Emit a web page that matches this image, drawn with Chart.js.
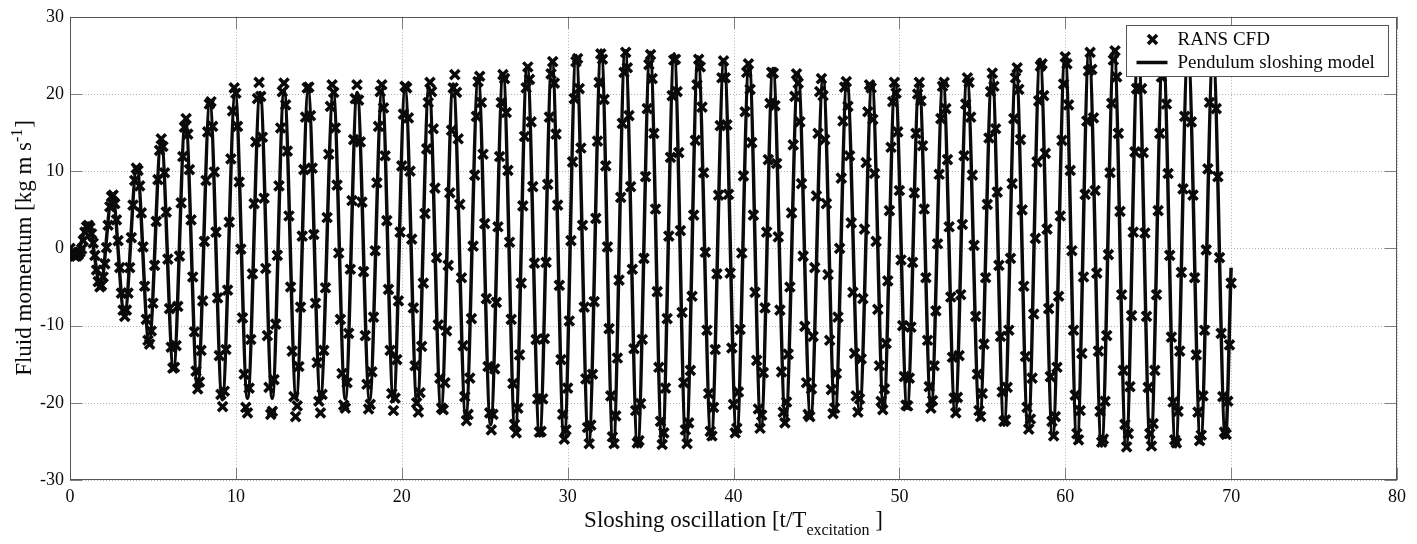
<!DOCTYPE html>
<html>
<head>
<meta charset="utf-8">
<script src="https://cdn.jsdelivr.net/npm/chart.js@4.4.1/dist/chart.umd.min.js"></script>
<style>
  html, body { margin: 0; padding: 0; background: #ffffff; }
  #wrap { width: 1417px; height: 544px; }
</style>
</head>
<body>
<div id="wrap"><canvas id="c" width="1417" height="544"></canvas></div>
<script>
// ---------- tick labels ----------
const xTicks = [0, 10, 20, 30, 40, 50, 60, 70, 80];
const yTicks = [-30, -20, -10, 0, 10, 20, 30];

// ---------- RANS CFD samples (one every 0.1 t/T, from t/T = 0) ----------
const cfdStartTime = 0;
const cfdTimeStep = 0.1;
const cfdMomentum = [
  0, -0.5, -0.8, -1.0, -1.0, -0.8, -0.5, -0.1, 1.0, 2.1, 2.8, 3.0, 2.7, 1.9, 0.7,
  -0.9, -2.8, -4.3, -5.0, -4.8, -3.7, -2.0, 0.1, 3.0, 5.4, 6.7, 6.9, 5.8, 3.7, 1.0,
  -2.5, -5.8, -8.0, -8.8, -8.0, -5.8, -2.5, 1.4, 5.6, 8.8, 10.4, 10.1, 8.1, 4.6, 0.2,
  -4.9, -9.2, -11.9, -12.4, -10.7, -7.1, -2.2, 3.5, 8.9, 12.7, 14.2, 13.2, 9.8, 4.7, -1.4,
  -7.8, -12.8, -15.5, -15.4, -12.6, -7.5, -1.0, 5.9, 11.9, 15.7, 16.8, 14.8, 10.2, 3.7, -3.7,
  -10.8, -15.9, -18.2, -17.3, -13.2, -6.8, 0.9, 8.8, 15.1, 18.7, 19.0, 15.8, 9.9, 2.1, -6.4,
  -13.9, -18.9, -20.5, -18.5, -13.1, -5.4, 3.4, 11.6, 17.8, 20.8, 20.1, 15.8, 8.6, -0.1, -9.0,
  -16.3, -20.6, -21.3, -18.1, -11.8, -3.3, 5.8, 13.8, 19.4, 21.5, 19.7, 14.4, 6.5, -2.6, -11.3,
  -18.0, -21.5, -21.1, -17.0, -9.8, -0.9, 8.1, 15.6, 20.3, 21.4, 18.6, 12.6, 4.2, -5.0, -13.3,
  -19.2, -21.8, -20.4, -15.3, -7.6, 1.6, 10.2, 17.0, 20.8, 20.9, 17.2, 10.4, 1.8, -7.1, -14.8,
  -19.8, -21.3, -18.9, -13.2, -5.1, 4.0, 12.2, 18.4, 21.2, 20.2, 15.6, 8.2, -0.6, -9.2, -16.2,
  -20.3, -20.7, -17.4, -11.0, -2.7, 6.2, 14.1, 19.4, 21.2, 19.2, 13.8, 6.0, -3.0, -11.3, -17.6,
  -20.8, -20.2, -16.0, -8.9, -0.3, 8.5, 15.8, 20.3, 21.2, 18.2, 12.0, 3.6, -5.3, -13.2, -18.8,
  -21.0, -19.4, -14.4, -6.8, 2.1, 10.7, 17.4, 21.0, 20.8, 16.9, 10.0, 1.2, -7.7, -15.2, -20.0,
  -21.2, -18.7, -12.7, -4.5, 4.5, 12.9, 18.9, 21.5, 20.3, 15.5, 7.8, -1.2, -9.9, -16.8, -20.7,
  -20.9, -17.4, -10.7, -2.2, 7.2, 15.3, 20.8, 22.5, 20.2, 14.2, 5.7, -3.8, -12.6, -19.2, -22.3,
  -21.5, -16.8, -9.1, 0.3, 9.5, 17.1, 21.6, 22.3, 18.9, 12.2, 3.2, -6.5, -15.3, -21.3, -23.5,
  -21.5, -15.6, -7.0, 2.8, 11.9, 18.9, 22.5, 22.0, 17.6, 10.1, 0.8, -9.2, -17.5, -22.8, -23.9,
  -20.7, -13.8, -4.5, 5.5, 14.5, 20.8, 23.5, 21.9, 16.4, 8.0, -1.9, -11.8, -19.5, -23.8, -23.7,
  -19.5, -11.7, -1.8, 8.3, 17.0, 22.6, 24.2, 21.4, 14.8, 5.6, -4.8, -14.4, -21.5, -24.7, -23.5,
  -18.1, -9.4, 1.0, 11.2, 19.4, 24.2, 24.6, 20.7, 13.0, 3.0, -7.6, -16.9, -23.2, -25.3, -22.9,
  -16.3, -6.9, 3.9, 13.9, 21.5, 25.2, 24.5, 19.3, 10.7, 0.2, -10.4, -19.1, -24.4, -25.3, -21.7,
  -14.2, -4.1, 6.6, 16.2, 22.8, 25.4, 23.4, 17.2, 8.0, -2.7, -13.0, -21.0, -25.2, -24.9, -20.1,
  -11.8, -1.3, 9.3, 18.1, 23.8, 25.1, 22.0, 14.9, 5.1, -5.6, -15.4, -22.4, -25.4, -23.9, -18.1,
  -9.1, 1.6, 11.8, 19.8, 24.4, 24.5, 20.3, 12.4, 2.3, -8.3, -17.4, -23.5, -25.3, -22.6, -15.8,
  -6.2, 4.3, 14.0, 21.2, 24.5, 23.5, 18.3, 9.8, -0.5, -10.6, -18.8, -23.7, -24.3, -20.6, -13.1,
  -3.3, 6.9, 15.9, 22.1, 24.3, 22.1, 16.0, 7.0, -3.2, -12.9, -20.2, -23.9, -23.3, -18.6, -10.5,
  -0.6, 9.4, 17.7, 22.8, 23.9, 20.6, 13.7, 4.3, -5.7, -14.5, -20.8, -23.3, -21.6, -16.1, -7.7,
  2.1, 11.5, 18.8, 22.8, 22.7, 18.5, 11.0, 1.5, -8.0, -16.0, -21.2, -22.6, -19.9, -13.7, -5.0,
  4.6, 13.4, 19.7, 22.6, 21.4, 16.4, 8.4, -1.0, -10.1, -17.4, -21.5, -21.8, -18.2, -11.4, -2.5,
  6.8, 14.9, 20.3, 22.0, 19.8, 14.1, 5.8, -3.4, -11.9, -18.3, -21.4, -20.7, -16.2, -8.9, 0.0,
  9.1, 16.5, 20.9, 21.6, 18.4, 12.0, 3.3, -5.7, -13.6, -19.1, -21.2, -19.5, -14.3, -6.5, 2.5,
  11.1, 17.7, 21.2, 20.8, 16.7, 9.7, 0.9, -7.9, -15.2, -19.8, -20.9, -18.2, -12.3, -4.2, 4.9,
  13.1, 19.0, 21.5, 20.1, 15.1, 7.5, -1.5, -10.0, -16.6, -20.3, -20.4, -16.8, -10.2, -1.8, 7.2,
  14.9, 20.0, 21.5, 19.1, 13.3, 5.1, -3.8, -11.9, -17.9, -20.7, -19.7, -15.2, -8.1, 0.6, 9.6,
  16.8, 21.0, 21.5, 18.1, 11.5, 2.8, -6.3, -14.1, -19.4, -21.3, -19.3, -13.9, -6.0, 3.1, 12.0,
  18.7, 22.1, 21.5, 17.0, 9.5, 0.4, -8.8, -16.3, -21.0, -21.8, -18.8, -12.4, -3.8, 5.7, 14.3,
  20.3, 22.7, 21.0, 15.5, 7.3, -2.2, -11.4, -18.6, -22.4, -22.2, -18.0, -10.6, -1.3, 8.4, 16.8,
  22.1, 23.4, 20.6, 14.1, 5.0, -4.9, -14.0, -20.6, -23.4, -22.1, -16.8, -8.5, 1.3, 11.2, 19.1,
  23.6, 23.9, 19.8, 12.3, 2.5, -7.8, -16.6, -22.4, -24.3, -21.8, -15.4, -6.2, 4.2, 14.0, 21.3,
  24.8, 23.9, 18.6, 10.1, -0.3, -10.6, -19.0, -24.0, -24.8, -21.0, -13.6, -3.7, 7.0, 16.5, 23.0,
  25.4, 23.2, 16.9, 7.5, -3.2, -13.3, -21.1, -25.1, -24.7, -19.8, -11.3, -0.8, 9.8, 18.8, 24.4,
  25.6, 22.2, 14.9, 4.8, -6.0, -15.8, -22.8, -25.7, -24.0, -17.9, -8.7, 2.1, 12.5, 20.7, 25.2,
  25.2, 20.7, 12.4, 2.0, -8.8, -18.0, -24.0, -25.6, -22.7, -15.8, -6.0, 4.9, 14.9, 22.2, 25.6,
  24.3, 18.7, 9.7, -0.9, -11.5, -19.9, -24.8, -25.2, -21.1, -13.3, -3.1, 7.7, 17.1, 23.4, 25.5,
  23.0, 16.4, 6.9, -3.8, -13.8, -21.2, -24.9, -24.2, -19.1, -10.6, -0.2, 10.3, 18.9, 24.1, 25.0,
  23.7, 18.1, 9.3, -1.2, -11.0, -19.2, -23.8, -24.1, -19.8, -12.5, -4.5
];

// ---------- Pendulum sloshing model: turning points of the curve ----------
const modelTime = [
  0, 0.35,
  1.10, 1.84, 2.55, 3.29, 4.03, 4.77, 5.50, 6.24, 6.96, 7.69, 8.43, 9.18,
  9.96, 10.70, 11.46, 12.19, 12.91, 13.64, 14.36, 15.10, 15.87, 16.60,
  17.31, 18.06, 18.81, 19.50, 20.20, 20.93, 21.64, 22.37, 23.10, 23.86,
  24.61, 25.36, 26.11, 26.84, 27.56, 28.31, 29.06, 29.79, 30.51, 31.27,
  32.02, 32.75, 33.47, 34.22, 34.97, 35.70, 36.42, 37.14, 37.86, 38.65,
  39.43, 40.19, 40.94, 41.66, 42.38, 43.14, 43.89, 44.65, 45.40, 46.12,
  46.84, 47.60, 48.35, 49.05, 49.74, 50.47, 51.19, 51.91, 52.63, 53.36,
  54.08, 54.84, 55.59, 56.31, 57.03, 57.76, 58.48, 59.24, 59.99, 60.71,
  61.43, 62.19, 62.94, 63.67, 64.39, 65.14, 65.89, 66.65, 67.40, 68.16,
  68.91, 69.66, 70.0
];
const modelMomentum = [
  0, -1.0,
  3.3, -4.8, 7.0, -8.6, 10.5, -12.2, 14.0, -15.6, 16.6, -18.0, 18.8, -19.6,
  20.0, -19.4, 20.2, -19.4, 20.4, -19.4, 20.3, -19.3, 20.2, -19.5,
  20.2, -19.6, 20.4, -19.8, 20.6, -20.2, 20.9, -20.8, 21.3, -21.8,
  22.0, -22.8, 22.6, -23.8, 23.5, -24.3, 24.3, -24.8, 25.0, -25.3,
  25.7, -25.6, 25.6, -25.7, 25.4, -25.6, 25.2, -25.3, 24.8, -24.7,
  24.4, -24.2, 24.0, -23.2, 23.3, -22.5, 22.7, -22.0, 22.0, -21.4,
  21.7, -21.0, 21.4, -20.9, 21.4, -20.7, 21.4, -20.7, 21.7, -21.2,
  22.2, -22.1, 22.7, -22.9, 23.6, -23.5, 24.5, -24.4, 25.0, -25.1,
  25.4, -25.6, 25.8, -25.8, 25.9, -25.8, 25.8, -25.7, 25.6, -25.2,
  25.2, -24.5, -2.5
];

const seriesNames = ['RANS CFD', 'Pendulum sloshing model'];

// ---------- build datasets ----------
const cfdPoints = cfdMomentum.map((v, i) => ({ x: +(cfdStartTime + i * cfdTimeStep).toFixed(1), y: v }));
const modelPoints = modelTime.map((t, i) => ({ x: t, y: modelMomentum[i] }));

const SERIF = "'Liberation Serif', 'DejaVu Serif', serif";
const INK = '#0a0a0a';

function seg(ctx, x1, y1, x2, y2) { ctx.beginPath(); ctx.moveTo(x1, y1); ctx.lineTo(x2, y2); ctx.stroke(); }

const framePlugin = {
  id: 'matlabFrame',
  beforeDatasetsDraw(chart) {
    const { ctx, chartArea: a, scales: { x, y } } = chart;
    ctx.save();
    ctx.lineWidth = 1;
    ctx.strokeStyle = '#b0b0b0';
    ctx.setLineDash([1, 2]);
    xTicks.forEach(v => { const p = Math.round(x.getPixelForValue(v)) + 0.5; seg(ctx, p, a.top, p, a.bottom); });
    yTicks.forEach(v => { const p = Math.round(y.getPixelForValue(v)) + 0.5; seg(ctx, a.left, p, a.right, p); });
    ctx.setLineDash([]);
    ctx.strokeStyle = '#808080';
    const tl = 12;
    xTicks.forEach(v => {
      const p = Math.round(x.getPixelForValue(v)) + 0.5;
      seg(ctx, p, a.bottom, p, a.bottom - tl);
      seg(ctx, p, a.top, p, a.top + tl);
    });
    yTicks.forEach(v => {
      const p = Math.round(y.getPixelForValue(v)) + 0.5;
      seg(ctx, a.left, p, a.left + tl, p);
      seg(ctx, a.right, p, a.right - tl, p);
    });
    ctx.strokeStyle = '#555555';
    ctx.strokeRect(Math.round(a.left) + 0.5, Math.round(a.top) + 0.5, Math.round(a.width) - 1, Math.round(a.height) - 1);
    ctx.restore();
  },
  afterDatasetsDraw(chart) {
    const { ctx, chartArea: a } = chart;
    // legend box, drawn over the data as in the original figure
    const bw = 262, bh = 51;
    const bx = Math.round(a.right - 9 - bw) + 0.5, by = Math.round(a.top + 8) + 0.5;
    ctx.save();
    ctx.fillStyle = '#ffffff';
    ctx.fillRect(bx, by, bw, bh);
    ctx.strokeStyle = '#555555';
    ctx.lineWidth = 1;
    ctx.strokeRect(bx, by, bw, bh);
    const r1 = by + 14, r2 = by + 37;
    ctx.strokeStyle = INK;
    ctx.lineWidth = 3.5;
    const mx = bx + 26, d = 4.5;
    seg(ctx, mx - d, r1 - d, mx + d, r1 + d);
    seg(ctx, mx - d, r1 + d, mx + d, r1 - d);
    seg(ctx, bx + 10, r2, bx + 41, r2);
    ctx.fillStyle = INK;
    ctx.font = "19px " + SERIF;
    ctx.textBaseline = 'middle';
    ctx.textAlign = 'left';
    ctx.fillText(seriesNames[0], bx + 51, r1 + 1);
    ctx.fillText(seriesNames[1], bx + 51, r2 + 1);
    ctx.restore();
  },
  afterDraw(chart) {
    const { ctx, chartArea: a } = chart;
    ctx.save();
    ctx.fillStyle = INK;
    ctx.textBaseline = 'alphabetic';
    ctx.textAlign = 'left';
    // x-axis title with subscript
    const big = "23px " + SERIF, small = "16px " + SERIF;
    const p1 = 'Sloshing oscillation [t/T', p2 = 'excitation', p3 = ' ]';
    ctx.font = big; const w1 = ctx.measureText(p1).width; const w3 = ctx.measureText(p3).width;
    ctx.font = small; const w2 = ctx.measureText(p2).width;
    let sx = (a.left + a.right) / 2 - (w1 + w2 + w3) / 2;
    const base = 527;
    ctx.font = big; ctx.fillText(p1, sx, base);
    ctx.font = small; ctx.fillText(p2, sx + w1, base + 8);
    ctx.font = big; ctx.fillText(p3, sx + w1 + w2, base);
    // y-axis title with superscript
    const q1 = 'Fluid momentum [kg m s', q2 = '-1', q3 = ']';
    ctx.font = big; const v1 = ctx.measureText(q1).width; const v3 = ctx.measureText(q3).width;
    ctx.font = small; const v2 = ctx.measureText(q2).width;
    ctx.translate(31, (a.top + a.bottom) / 2);
    ctx.rotate(-Math.PI / 2);
    let tx = -(v1 + v2 + v3) / 2;
    ctx.font = big; ctx.fillText(q1, tx, 0);
    ctx.font = small; ctx.fillText(q2, tx + v1, -9);
    ctx.font = big; ctx.fillText(q3, tx + v1 + v2 + 1, 0);
    ctx.restore();
  }
};

new Chart(document.getElementById('c'), {
  type: 'scatter',
  data: {
    datasets: [
      {
        label: seriesNames[0],
        data: cfdPoints,
        showLine: false,
        pointStyle: 'crossRot',
        pointRadius: 6.5,
        pointBorderWidth: 3.5,
        borderColor: INK,
        backgroundColor: INK,
        order: 0
      },
      {
        label: seriesNames[1],
        data: modelPoints,
        showLine: true,
        pointRadius: 0,
        borderColor: INK,
        borderWidth: 3.5,
        cubicInterpolationMode: 'monotone',
        fill: false,
        order: 1
      }
    ]
  },
  options: {
    responsive: false,
    animation: false,
    devicePixelRatio: 1,
    layout: { padding: { left: 0, right: 20, top: 16, bottom: 0 } },
    plugins: { legend: { display: false }, tooltip: { enabled: false } },
    elements: { point: { hoverRadius: 6.5 } },
    scales: {
      x: {
        type: 'linear', min: 0, max: 80,
        afterBuildTicks: s => { s.ticks = xTicks.map(v => ({ value: v })); },
        afterFit: s => { s.height = 64; },
        grid: { display: false, drawTicks: false },
        border: { display: false },
        ticks: { color: INK, font: { family: SERIF, size: 18 }, padding: 6, autoSkip: false, maxRotation: 0 }
      },
      y: {
        type: 'linear', min: -30, max: 30,
        afterBuildTicks: s => { s.ticks = yTicks.map(v => ({ value: v })); },
        afterFit: s => { s.width = 70; },
        grid: { display: false, drawTicks: false },
        border: { display: false },
        ticks: { color: INK, font: { family: SERIF, size: 18 }, padding: 6, autoSkip: false }
      }
    }
  },
  plugins: [framePlugin]
});
</script>
</body>
</html>
